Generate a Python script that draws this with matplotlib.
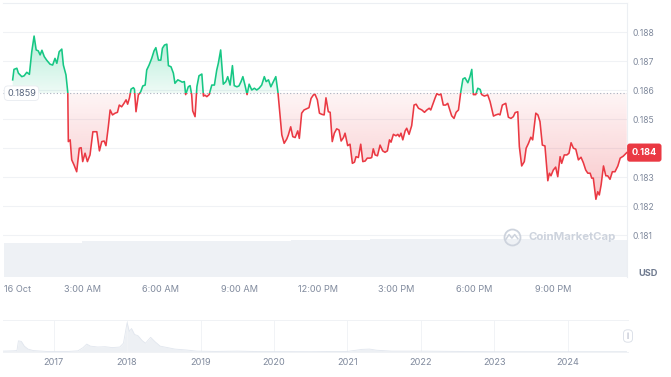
import numpy as np
import matplotlib
matplotlib.use('agg')
import matplotlib.pyplot as plt
from matplotlib.colors import to_rgb
from matplotlib.patches import Rectangle

# 24h price, hours after midnight 16 Oct
hours = [
    0.33, 0.38, 0.49, 0.55, 0.68, 0.77, 0.87, 0.97, 1.06, 1.15,
    1.23, 1.31, 1.38, 1.45, 1.54, 1.63, 1.76, 1.86, 1.95, 2.02,
    2.11, 2.21, 2.27, 2.37, 2.44, 2.46, 2.53, 2.59, 2.68, 2.78,
    2.88, 2.95, 3.01, 3.10, 3.19, 3.29, 3.40, 3.55, 3.65, 3.74,
    3.83, 3.90, 3.99, 4.06, 4.15, 4.25, 4.34, 4.41, 4.50, 4.59,
    4.67, 4.73, 4.80, 4.86, 4.95, 4.99, 5.05, 5.14, 5.23, 5.31,
    5.40, 5.46, 5.55, 5.65, 5.74, 5.81, 5.91, 6.00, 6.06, 6.14,
    6.23, 6.29, 6.39, 6.48, 6.54, 6.65, 6.74, 6.82, 6.90, 6.95,
    7.05, 7.12, 7.18, 7.22, 7.31, 7.38, 7.46, 7.57, 7.63, 7.69,
    7.76, 7.85, 7.95, 8.05, 8.14, 8.20, 8.29, 8.39, 8.49, 8.56,
    8.65, 8.74, 8.81, 8.91, 8.99, 9.07, 9.14, 9.22, 9.30, 9.38,
    9.48, 9.58, 9.67, 9.76, 9.86, 9.96, 10.03, 10.12, 10.21, 10.31,
    10.40, 10.48, 10.56, 10.63, 10.72, 10.82, 10.88, 10.97, 11.05, 11.14,
    11.24, 11.30, 11.39, 11.48, 11.58, 11.67, 11.75, 11.84, 11.90, 11.99,
    12.07, 12.16, 12.25, 12.32, 12.41, 12.48, 12.56, 12.64, 12.73, 12.82,
    12.90, 12.99, 13.05, 13.15, 13.24, 13.33, 13.41, 13.47, 13.56, 13.65,
    13.73, 13.82, 13.90, 14.01, 14.07, 14.13, 14.20, 14.29, 14.39, 14.49,
    14.58, 14.67, 14.75, 14.81, 14.90, 15.00, 15.07, 15.13, 15.19, 15.26,
    15.35, 15.41, 15.50, 15.60, 15.69, 15.77, 15.86, 15.99, 16.09, 16.18,
    16.27, 16.33, 16.41, 16.49, 16.56, 16.65, 16.72, 16.81, 16.90, 16.98,
    17.07, 17.13, 17.22, 17.30, 17.39, 17.48, 17.56, 17.64, 17.75, 17.83,
    17.90, 17.96, 18.05, 18.13, 18.22, 18.28, 18.38, 18.51, 18.60, 18.73,
    18.82, 18.92, 18.98, 19.07, 19.20, 19.30, 19.40, 19.49, 19.56, 19.66,
    19.72, 19.81, 19.91, 19.98, 20.07, 20.16, 20.23, 20.35, 20.43, 20.51,
    20.60, 20.70, 20.81, 20.87, 20.93, 21.02, 21.11, 21.19, 21.28, 21.34,
    21.44, 21.54, 21.62, 21.70, 21.79, 21.88, 21.98, 22.08, 22.17, 22.26,
    22.34, 22.43, 22.49, 22.55, 22.65, 22.72, 22.78, 22.85, 22.94, 23.03,
    23.10, 23.19, 23.28, 23.38, 23.49, 23.58, 23.70, 23.83,
]
prices = [
    0.18636, 0.18672, 0.18676, 0.18659, 0.18647, 0.18650, 0.18662, 0.18655, 0.18733, 0.18787,
    0.18739, 0.18736, 0.18722, 0.18738, 0.18716, 0.18704, 0.18690, 0.18687, 0.18710, 0.18693,
    0.18733, 0.18742, 0.18687, 0.18653, 0.18592, 0.18423, 0.18429, 0.18360, 0.18342, 0.18319,
    0.18400, 0.18402, 0.18354, 0.18383, 0.18354, 0.18377, 0.18457, 0.18457, 0.18391, 0.18423,
    0.18425, 0.18409, 0.18474, 0.18532, 0.18515, 0.18521, 0.18524, 0.18549, 0.18543, 0.18555,
    0.18567, 0.18552, 0.18574, 0.18604, 0.18609, 0.18604, 0.18526, 0.18584, 0.18595, 0.18615,
    0.18618, 0.18670, 0.18687, 0.18710, 0.18736, 0.18747, 0.18704, 0.18704, 0.18745, 0.18756,
    0.18759, 0.18685, 0.18681, 0.18659, 0.18624, 0.18636, 0.18632, 0.18628, 0.18630, 0.18585,
    0.18612, 0.18616, 0.18585, 0.18529, 0.18509, 0.18612, 0.18650, 0.18656, 0.18580, 0.18583,
    0.18578, 0.18585, 0.18618, 0.18618, 0.18670, 0.18693, 0.18739, 0.18621, 0.18630, 0.18647,
    0.18618, 0.18685, 0.18616, 0.18612, 0.18615, 0.18630, 0.18647, 0.18618, 0.18585, 0.18621,
    0.18601, 0.18607, 0.18601, 0.18607, 0.18618, 0.18647, 0.18630, 0.18636, 0.18612, 0.18630,
    0.18647, 0.18595, 0.18515, 0.18446, 0.18417, 0.18432, 0.18446, 0.18474, 0.18440, 0.18437,
    0.18460, 0.18434, 0.18521, 0.18532, 0.18536, 0.18540, 0.18572, 0.18584, 0.18586, 0.18567,
    0.18521, 0.18517, 0.18515, 0.18574, 0.18526, 0.18524, 0.18423, 0.18452, 0.18467, 0.18463,
    0.18425, 0.18437, 0.18452, 0.18409, 0.18414, 0.18348, 0.18352, 0.18371, 0.18368, 0.18414,
    0.18354, 0.18356, 0.18366, 0.18366, 0.18368, 0.18398, 0.18377, 0.18374, 0.18411, 0.18391,
    0.18386, 0.18391, 0.18429, 0.18421, 0.18448, 0.18443, 0.18448, 0.18440, 0.18452, 0.18429,
    0.18460, 0.18469, 0.18448, 0.18478, 0.18549, 0.18552, 0.18538, 0.18532, 0.18524, 0.18532,
    0.18538, 0.18532, 0.18552, 0.18572, 0.18588, 0.18584, 0.18587, 0.18549, 0.18549, 0.18555,
    0.18529, 0.18512, 0.18503, 0.18524, 0.18532, 0.18595, 0.18639, 0.18643, 0.18626, 0.18647,
    0.18672, 0.18585, 0.18585, 0.18607, 0.18603, 0.18585, 0.18580, 0.18584, 0.18561, 0.18511,
    0.18515, 0.18518, 0.18515, 0.18549, 0.18555, 0.18507, 0.18503, 0.18509, 0.18523, 0.18526,
    0.18406, 0.18339, 0.18354, 0.18400, 0.18417, 0.18438, 0.18429, 0.18521, 0.18515, 0.18492,
    0.18411, 0.18408, 0.18288, 0.18314, 0.18305, 0.18325, 0.18335, 0.18302, 0.18371, 0.18348,
    0.18377, 0.18377, 0.18383, 0.18419, 0.18400, 0.18397, 0.18360, 0.18369, 0.18350, 0.18325,
    0.18314, 0.18314, 0.18297, 0.18297, 0.18224, 0.18250, 0.18239, 0.18274, 0.18339, 0.18305,
    0.18305, 0.18293, 0.18319, 0.18319, 0.18339, 0.18366, 0.18373, 0.18385,
]
ref_price = 0.1859
last_label = '0.184'

# hourly volume (relative)
vol_hours = list(range(24))
volume = [34.7, 34.7, 34.7, 35.9, 36.0, 36.0, 36.0, 36.0, 36.3, 36.5, 36.7, 37.7,
          37.7, 37.7, 38.0, 38.2, 38.5, 38.7, 38.5, 38.3, 38.0, 37.5, 37.3, 37.3]

price_ticks = [0.181, 0.182, 0.183, 0.184, 0.185, 0.186, 0.187, 0.188]
time_ticks = [0, 3, 6, 9, 12, 15, 18, 21]
time_labels = ['16 Oct', '3:00 AM', '6:00 AM', '9:00 AM', '12:00 PM', '3:00 PM', '6:00 PM', '9:00 PM']

# all-time navigator (relative volume by year)
nav_years = [2016.31, 2016.45, 2016.50, 2016.52, 2016.56, 2016.60, 2016.65, 2016.72, 2016.90, 2017.20,
             2017.33, 2017.40, 2017.45, 2017.50, 2017.60, 2017.70, 2017.80, 2017.90, 2017.95, 2018.00,
             2018.03, 2018.06, 2018.10, 2018.15, 2018.20, 2018.25, 2018.32, 2018.38, 2018.45, 2018.55,
             2018.65, 2018.80, 2018.95, 2019.20, 2019.50, 2019.80, 2020.50, 2021.00, 2021.20, 2021.30,
             2021.40, 2021.60, 2022.00, 2022.50, 2023.00, 2024.00, 2024.80]
nav_values = [0.03, 0.04, 0.05, 0.38, 0.36, 0.20, 0.10, 0.05, 0.02, 0.02,
              0.04, 0.15, 0.27, 0.20, 0.17, 0.18, 0.15, 0.17, 0.30, 1.00,
              0.70, 0.80, 0.60, 0.55, 0.40, 0.30, 0.50, 0.35, 0.20, 0.15,
              0.10, 0.07, 0.03, 0.02, 0.03, 0.015, 0.01, 0.02, 0.09, 0.10,
              0.06, 0.03, 0.03, 0.02, 0.01, 0.01, 0.01]
year_ticks = [2017, 2018, 2019, 2020, 2021, 2022, 2023, 2024]

GREEN = '#16c784'
RED = '#ea3943'
GRID = '#f0f2f5'
TEXT = '#808a9d'

plt.rcParams['font.family'] = ['Inter', 'DejaVu Sans']

W, H = 671, 377
fig = plt.figure(figsize=(W / 100, H / 100), dpi=100)

ax = fig.add_axes([3 / W, 1 - 277 / H, 624 / W, 274 / H])
h = np.array(hours)
p = np.array(prices)
xmin, xmax = -0.04, 23.84
ymin, ymax = 0.17956, 0.18901


def gradient(ax, path, color, lo, hi, a_lo, a_hi):
    img = np.zeros((256, 1, 4))
    img[:, 0, :3] = to_rgb(color)
    img[:, 0, 3] = np.linspace(a_lo, a_hi, 256)
    im = ax.imshow(img, extent=[xmin, xmax, lo, hi], origin='lower',
                   aspect='auto', interpolation='bilinear', zorder=1)
    im.set_clip_path(path, transform=ax.transData)


up = ax.fill_between(h, ref_price, np.maximum(p, ref_price), color='none', lw=0)
dn = ax.fill_between(h, np.minimum(p, ref_price), ref_price, color='none', lw=0)
gradient(ax, up.get_paths()[0], GREEN, ref_price, p.max(), 0.07, 0.32)
gradient(ax, dn.get_paths()[0], RED, p.min(), ref_price, 0.28, 0.05)

lg, = ax.plot(h, p, color=GREEN, lw=1.15, zorder=4, solid_joinstyle='round')
lr, = ax.plot(h, p, color=RED, lw=1.15, zorder=4, solid_joinstyle='round')
lg.set_clip_path(Rectangle((xmin - 1, ref_price), 30, 1, transform=ax.transData))
lr.set_clip_path(Rectangle((xmin - 1, ref_price - 1), 30, 1, transform=ax.transData))

ax.axhline(ref_price, color='#a7aebd', lw=0.8, ls=(0, (1, 2)), zorder=3)
for t in price_ticks:
    ax.axhline(t, color=GRID, lw=0.8, zorder=0)

ax.set_xlim(xmin, xmax)
ax.set_ylim(ymin, ymax)
ax.set_zorder(2)
ax.patch.set_visible(False)
for s in ['left', 'bottom']:
    ax.spines[s].set_visible(False)
for s in ['top', 'right']:
    ax.spines[s].set_color('#eceff3')
    ax.spines[s].set_linewidth(0.8)

# the current-price badge stands in for the tick label it covers
ytick_text = ['' if '%.3f' % t == last_label else '%.3f' % t for t in price_ticks]
ax.yaxis.tick_right()
ax.set_yticks(price_ticks, ytick_text)
ax.tick_params(axis='y', length=0, pad=4, labelsize=6.2, labelcolor=TEXT)
ax.set_xticks(time_ticks, time_labels)
ax.tick_params(axis='x', length=0, pad=5.5, labelsize=6.6, labelcolor=TEXT)
ax.get_xticklabels()[0].set_ha('left')

# volume underlay
axv = fig.add_axes(ax.get_position(), zorder=1)
axv.bar(vol_hours, volume, width=1.0, align='edge', color='#eef1f5', lw=0)
axv.set_xlim(xmin, xmax)
axv.set_ylim(0, max(volume) / 0.14)
axv.axis('off')

# labels
ax.text(0.0065, ref_price, '%.4f' % ref_price, transform=ax.get_yaxis_transform(),
        ha='left', va='center', fontsize=6.6, color='#58667e', zorder=6,
        bbox=dict(boxstyle='round,pad=0.3,rounding_size=0.4', fc='white', ec='#e8ebf0', lw=0.6))
ax.text(1.0075, p[-1], last_label, transform=ax.get_yaxis_transform(),
        ha='left', va='center', fontsize=6.6, color='white', weight='bold', zorder=10,
        clip_on=False,
        bbox=dict(boxstyle='round,pad=0.5,rounding_size=0.3', fc=RED, ec='none'))
fig.text(638 / W, 1 - 273 / H, 'USD', ha='left', va='center', fontsize=6.6,
         weight='bold', color='#6f7a8f')

# watermark
ax.plot([0.8157], [0.146], transform=ax.transAxes, marker='o', ms=11.5, mfc='none',
        mec='#cdd3dd', mew=1.3, zorder=5)
ax.plot([0.806, 0.811, 0.8155, 0.82, 0.825], [0.138, 0.155, 0.142, 0.155, 0.14],
        transform=ax.transAxes, color='#cdd3dd', lw=1.1, zorder=5)
ax.text(0.842, 0.146, 'CoinMarketCap', transform=ax.transAxes, ha='left', va='center',
        fontsize=8.2, color='#cdd3dd', weight='bold', zorder=5)

# navigator
axn = fig.add_axes([3 / W, 1 - 352 / H, 625 / W, 32 / H])
axn.fill_between(nav_years, nav_values, color='#edf0f4', lw=0)
axn.plot(nav_years, nav_values, color='#e1e6ee', lw=0.6)
axn.set_xlim(2016.31, 2024.82)
axn.set_ylim(0, 1.09)
axn.set_yticks([])
axn.set_xticks(year_ticks, [str(y) for y in year_ticks])
axn.tick_params(axis='x', length=0, pad=4, labelsize=6.6, labelcolor=TEXT)
axn.grid(axis='x', color='#f1f3f6', lw=0.7)
for s in ['left', 'right']:
    axn.spines[s].set_visible(False)
for s in ['top', 'bottom']:
    axn.spines[s].set_color('#f0f2f5')
    axn.spines[s].set_linewidth(0.7)
axn.text(2024.82, 0.5, '||', transform=axn.get_xaxis_transform(), ha='center', va='center',
         fontsize=3.5, color='#a1a7bb', clip_on=False,
         bbox=dict(boxstyle='round,pad=0.6,rounding_size=0.8', fc='white', ec='#d7dce5', lw=0.6))

fig.savefig('out.png', dpi=100)
